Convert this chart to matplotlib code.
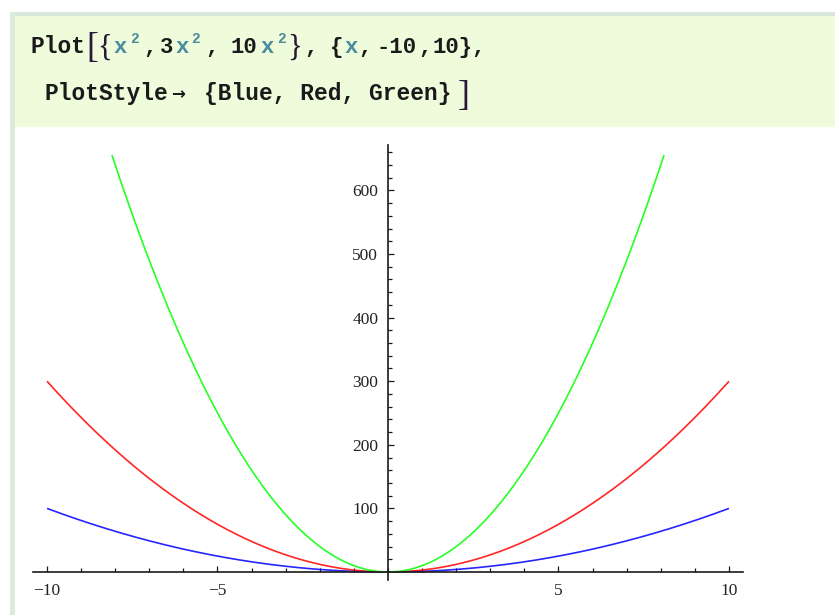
import numpy as np
import matplotlib.pyplot as plt
from matplotlib.patches import Rectangle

W, H = 835, 615

# curves: coefficient * x^2 on x in [-10, 10]
coefs = [1, 3, 10]
colors = ['#0000ff', '#ff0000', '#00ff00']
x_range = (-10, 10)
y_clip = 659

x_major = [-10, -5, 5, 10]
x_minor = list(range(-10, 11))
y_major = [100, 200, 300, 400, 500, 600]
y_minor = list(range(20, 661, 20))

mono = ['Liberation Mono', 'DejaVu Sans Mono']
black = '#1a1a1a'
teal = '#4a8c9c'
brk = '#2a1838'


def px(x, y):
    return x / W, 1 - y / H


def put(x, y, s, color=black, size=16, family=mono, weight='bold'):
    fx, fy = px(x, y)
    fig.text(fx, fy, s, color=color, fontsize=size, family=family,
             weight=weight, ha='left', va='baseline')


def bracket(x, y, s, size=25):
    put(x, y, s, color=brk, size=size, family=['Liberation Serif'], weight='normal')


fig = plt.figure(figsize=(W / 100, H / 100), dpi=100)
fig.patch.set_facecolor('white')

# notebook cell
fig.patches.append(Rectangle(px(10, 127), (W - 10) / W, 115 / H,
                             transform=fig.transFigure, facecolor='#effcdc',
                             edgecolor='none', zorder=0))
fig.patches.append(Rectangle(px(10, 16), (W - 10) / W, 4 / H,
                             transform=fig.transFigure, facecolor='#d8e8d8',
                             edgecolor='none', zorder=0))
fig.patches.append(Rectangle(px(10, H), 5 / W, (H - 12) / H,
                             transform=fig.transFigure, facecolor='#dcebdc',
                             edgecolor='none', zorder=0))

# line 1 of code
b1 = 53
put(31, b1, 'Plot', size=16.5)
bracket(86, b1 + 4, '[', 26)
bracket(97, b1 + 3, '{', 22)
put(113, b1, 'x', color=teal)
put(130, b1 - 10, '2', color=teal, size=10.5)
put(143, b1, ',')
put(160, b1, '3')
put(175, b1, 'x', color=teal)
put(191, b1 - 10, '2', color=teal, size=10.5)
put(205, b1, ',')
put(231, b1, '10')
put(260, b1, 'x', color=teal)
put(277, b1 - 10, '2', color=teal, size=10.5)
bracket(287, b1 + 3, '}', 22)
put(304, b1, ',')
put(330, b1, '{')
put(344, b1, 'x', color=teal)
put(358, b1, ',')
put(376, b1, '-10')
put(418, b1, ',')
put(432, b1, '10},')

# line 2 of code
b2 = 100
put(44, b2, 'PlotStyle', size=16.5)
put(171, b2 - 1, '\u2192', size=12, family=['DejaVu Sans'])
put(204, b2, '{Blue, Red, Green}', size=16.5)
bracket(458, b2 + 5, ']', 26)

# plot axes
x0, x1 = -10.4, 10.4
y0, y1 = -13, 672
sx = 34.1
sy = 0.636
left = 388 + x0 * sx
bottom = 572 - y0 * sy
ax = fig.add_axes([left / W, (H - bottom) / H,
                   (x1 - x0) * sx / W, (y1 - y0) * sy / H])
ax.set_facecolor('none')

xs = np.linspace(x_range[0], x_range[1], 600)
for c, col in zip(coefs, colors):
    ys = c * xs ** 2
    ys = np.where(ys <= y_clip, ys, np.nan)
    ax.plot(xs, ys, color=col, lw=1.2, alpha=0.85, solid_capstyle='butt', zorder=2)

ax.set_xlim(x0, x1)
ax.set_ylim(y0, y1)

for s in ['top', 'right']:
    ax.spines[s].set_visible(False)
for s in ['left', 'bottom']:
    ax.spines[s].set_position(('data', 0))
    ax.spines[s].set_linewidth(1.2)
    ax.spines[s].set_color('#1a1a1a')
    ax.spines[s].set_zorder(3)

ax.set_xticks(x_major)
ax.set_xticks(x_minor, minor=True)
ax.set_yticks(y_major)
ax.set_yticks(y_minor, minor=True)
ax.set_xticklabels(['\u2212' + str(-v) if v < 0 else str(v) for v in x_major])
ax.tick_params(which='both', direction='in', width=0.9, color='#1a1a1a')
ax.tick_params(which='major', length=4.5)
ax.tick_params(which='minor', length=2.6)
ax.tick_params(axis='x', which='major', pad=8)
ax.tick_params(axis='y', which='major', pad=7)
for lab in ax.get_xticklabels() + ax.get_yticklabels():
    lab.set_fontfamily('Liberation Serif')
    lab.set_fontsize(12.5)
    lab.set_color('#222222')

fig.savefig('out.png', dpi=100)
